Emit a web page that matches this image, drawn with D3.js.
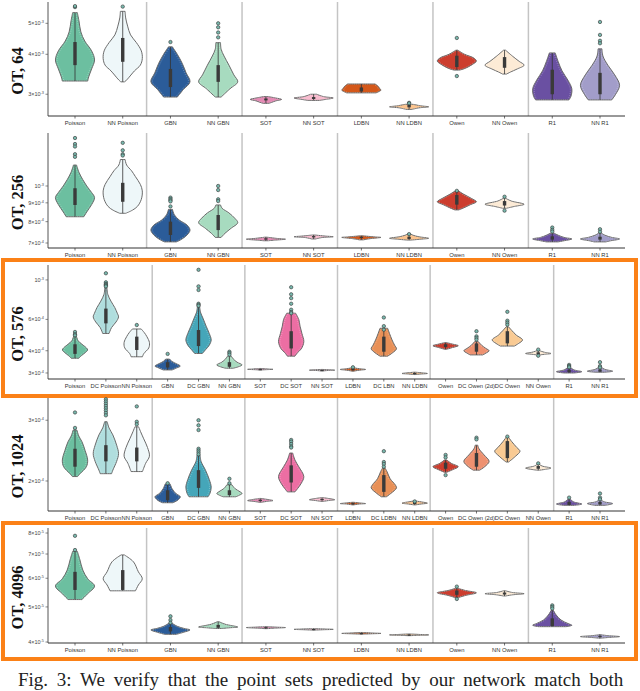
<!DOCTYPE html>
<html>
<head>
<meta charset="utf-8">
<script src="https://cdn.jsdelivr.net/npm/d3@7"></script>
<style>body{margin:0;background:#fff}</style>
</head>
<body>
<svg id="chart" width="640" height="691"></svg>
<script>
// categories (x axis)
const cats12 = ["Poisson","NN Poisson","GBN","NN GBN","SOT","NN SOT","LDBN","NN LDBN","Owen","NN Owen","R1","NN R1"]
const cats576 = ["Poisson","DC Poisson","NN Poisson","GBN","DC GBN","NN GBN","SOT","DC SOT","NN SOT","LDBN","DC LBN","NN LDBN","Owen","DC Owen (2d)","DC Owen","NN Owen","R1","NN R1"]
const cats1024 = ["Poisson","DC Poisson","NN Poisson","GBN","DC GBN","NN GBN","SOT","DC SOT","NN SOT","LDBN","DC LDBN","NN LDBN","Owen","DC Owen (2d)","DC Owen","NN Owen","R1","NN R1"]
const groups12 = [2,2,2,2,2,2]
const groups18 = [3,3,3,3,4,2]

// y ticks
const ticks64 = [3e-3,4e-3,5e-3]
const ticks256 = [7e-4,8e-4,9e-4,1e-3]
const ticks576 = [3e-4,4e-4,6e-4,1e-3]
const ticks1024 = [2e-4,3e-4]
const ticks4096 = [4e-5,5e-5,6e-5,7e-5,8e-5]

const fills = {
  "Poisson":"#6cbfa0","DC Poisson":"#b0dede","NN Poisson":"#eef7f9",
  "GBN":"#2b5c99","DC GBN":"#45a6b9","NN GBN":"#a7dbbf",
  "SOT":"#e58bb5","DC SOT":"#ec6ea3","NN SOT":"#f9bccf",
  "LDBN":"#d4581a","DC LBN":"#e89057","DC LDBN":"#e89057","NN LDBN":"#fcc48e",
  "Owen":"#cc3d2e","DC Owen (2d)":"#ee9170","DC Owen":"#f9ca93","NN Owen":"#fdebd6",
  "R1":"#6a50a2","NN R1":"#a29dc9"
}

// violins: profile [value, relative half width], box [q1, median, q3], outliers
// OT, 64 (x 1e-3)
const ot64 = [
  {cat:"Poisson", prof:[[5.4,0.12],[5.1,0.2],[4.7,0.3],[4.4,0.5],[4.1,0.85],[3.84,1],[3.6,0.85],[3.4,0.7],[3.3,0.65]], box:[3.70,3.97,4.37], out:[5.62,5.66]},
  {cat:"NN Poisson", prof:[[5.45,0.12],[5.2,0.15],[4.9,0.25],[4.6,0.4],[4.35,0.7],[4.1,0.95],[3.88,1],[3.7,0.9],[3.55,0.6],[3.35,0.25],[3.28,0.1]], box:[3.79,4.2,4.5], out:[5.64]},
  {cat:"GBN", prof:[[4.22,0.1],[4.0,0.35],[3.75,0.6],[3.5,0.8],[3.28,1],[3.1,0.65],[2.94,0.35]], box:[3.16,3.38,3.6], out:[4.37]},
  {cat:"NN GBN", prof:[[4.35,0.12],[4.15,0.15],[3.95,0.3],[3.7,0.55],[3.45,0.8],[3.28,1],[3.12,0.6],[2.94,0.15]], box:[3.28,3.5,3.7], out:[5.0,4.86,4.68,4.52]},
  {cat:"SOT", prof:[[2.95,0.1],[2.92,0.5],[2.89,0.8],[2.86,0.5],[2.83,0.3],[2.81,0.15]], box:[2.87,2.89,2.91], out:[]},
  {cat:"NN SOT", prof:[[3.0,0.15],[2.95,0.5],[2.92,1],[2.89,0.6],[2.87,0.3]], box:[2.9,2.92,2.94], out:[]},
  {cat:"LDBN", prof:[[3.23,0.7],[3.18,0.85],[3.12,0.95],[3.09,1],[3.06,0.9],[3.03,0.75]], box:[3.06,3.1,3.15], out:[]},
  {cat:"NN LDBN", prof:[[2.79,0.2],[2.76,0.6],[2.74,1],[2.72,0.5],[2.69,0.15]], box:[2.73,2.75,2.78], out:[2.82,2.81]},
  {cat:"Owen", prof:[[4.12,0.05],[4.0,0.4],[3.9,0.85],[3.81,1],[3.72,0.8],[3.62,0.45],[3.57,0.15]], box:[3.65,3.8,3.96], out:[4.5,3.42]},
  {cat:"NN Owen", prof:[[4.12,0.05],[3.95,0.4],[3.8,0.75],[3.7,1],[3.6,0.65],[3.52,0.3],[3.47,0.1]], box:[3.63,3.76,3.92], out:[]},
  {cat:"R1", prof:[[4.04,0.15],[3.8,0.3],[3.55,0.5],[3.32,0.8],[3.12,1],[2.95,0.95],[2.88,0.85]], box:[3.0,3.32,3.58], out:[]},
  {cat:"NN R1", prof:[[4.16,0.1],[3.95,0.15],[3.7,0.4],[3.45,0.75],[3.2,1],[3.0,0.8],[2.88,0.6]], box:[3.0,3.2,3.5], out:[5.05,4.6,4.41,4.33]}
]

// OT, 256 (x 1e-4)
const ot256 = [
  {cat:"Poisson", prof:[[11.4,0.08],[10.9,0.2],[10.4,0.4],[10.0,0.6],[9.6,0.85],[9.3,1],[8.9,0.85],[8.5,0.6],[8.25,0.45]], box:[8.88,9.45,9.86], out:[13.5,13.0,12.8,12.2,12.0]},
  {cat:"NN Poisson", prof:[[11.8,0.12],[11.4,0.2],[11.0,0.45],[10.6,0.65],[10.1,0.9],[9.7,1],[9.2,0.95],[8.8,0.75],[8.6,0.5],[8.43,0.15]], box:[9.06,9.65,10.2], out:[13.1,12.5,12.2,12.1]},
  {cat:"GBN", prof:[[8.64,0.1],[8.35,0.2],[8.08,0.45],[7.83,0.85],[7.59,1],[7.36,0.85],[7.13,0.5],[7.05,0.3]], box:[7.36,7.65,8.0], out:[9.3,9.22,9.15,9.08,8.8]},
  {cat:"NN GBN", prof:[[8.88,0.12],[8.7,0.2],[8.45,0.55],[8.17,0.85],[7.95,1],[7.67,0.65],[7.44,0.35],[7.25,0.15]], box:[7.59,8.0,8.34], out:[10.0,9.75,9.2,9.1]},
  {cat:"SOT", prof:[[7.26,0.05],[7.2,0.6],[7.17,1],[7.13,0.5],[7.1,0.1]], box:[7.15,7.18,7.21], out:[]},
  {cat:"NN SOT", prof:[[7.36,0.05],[7.31,0.6],[7.28,1],[7.24,0.4],[7.18,0.1]], box:[7.25,7.28,7.31], out:[]},
  {cat:"LDBN", prof:[[7.32,0.1],[7.27,0.7],[7.25,1],[7.2,0.5],[7.14,0.1]], box:[7.22,7.25,7.28], out:[]},
  {cat:"NN LDBN", prof:[[7.42,0.05],[7.35,0.2],[7.28,0.5],[7.21,1],[7.17,0.6],[7.13,0.1]], box:[7.18,7.22,7.28], out:[7.4]},
  {cat:"Owen", prof:[[9.72,0.05],[9.5,0.35],[9.25,0.75],[9.06,1],[8.9,0.7],[8.72,0.35],[8.61,0.1]], box:[8.9,9.15,9.45], out:[9.7]},
  {cat:"NN Owen", prof:[[9.26,0.05],[9.1,0.35],[8.92,1],[8.8,0.5],[8.7,0.1]], box:[8.85,8.95,9.1], out:[9.35,8.57]},
  {cat:"R1", prof:[[7.44,0.1],[7.35,0.3],[7.25,0.6],[7.18,1],[7.1,0.6],[7.05,0.3]], box:[7.15,7.2,7.3], out:[7.71,7.6,7.52]},
  {cat:"NN R1", prof:[[7.44,0.08],[7.35,0.25],[7.25,0.6],[7.18,1],[7.1,0.55],[7.05,0.3]], box:[7.15,7.2,7.28], out:[7.63,7.51]}
]

// OT, 576 (x 1e-4)
const ot576 = [
  {cat:"Poisson", prof:[[4.85,0.1],[4.55,0.25],[4.35,0.55],[4.15,0.9],[4.04,1],[3.9,0.8],[3.75,0.5],[3.63,0.3]], box:[3.84,4.04,4.35], out:[5.1,4.95,4.88]},
  {cat:"DC Poisson", prof:[[9.1,0.08],[8.3,0.15],[7.6,0.4],[7.0,0.7],[6.5,0.9],[6.2,1],[5.8,0.8],[5.4,0.45],[5.0,0.25]], box:[5.7,6.25,6.9], out:[10.9,9.7,9.5,9.4,9.3,9.2]},
  {cat:"NN Poisson", prof:[[5.3,0.35],[5.05,0.6],[4.8,0.8],[4.45,1],[4.15,0.95],[3.85,0.55],[3.7,0.45]], box:[4.04,4.4,4.8], out:[5.58]},
  {cat:"GBN", prof:[[3.59,0.15],[3.48,0.35],[3.38,0.7],[3.28,1],[3.2,0.7],[3.12,0.35]], box:[3.22,3.3,3.45], out:[3.84]},
  {cat:"DC GBN", prof:[[7.23,0.08],[6.6,0.15],[6.1,0.35],[5.5,0.6],[5.0,0.85],[4.6,1],[4.3,0.85],[4.05,0.55],[3.86,0.3]], box:[4.25,4.7,5.23], out:[11.4,9.2,8.78,7.35,7.25,7.15]},
  {cat:"NN GBN", prof:[[3.73,0.15],[3.6,0.3],[3.45,0.6],[3.33,1],[3.25,0.7],[3.19,0.3]], box:[3.25,3.33,3.45], out:[3.95,3.88,3.8]},
  {cat:"SOT", prof:[[3.18,0.05],[3.155,0.7],[3.145,1],[3.13,0.4],[3.12,0.05]], box:[3.14,3.145,3.155], out:[]},
  {cat:"DC SOT", prof:[[6.5,0.35],[6.0,0.6],[5.5,0.7],[5.0,0.85],[4.5,1],[4.1,0.8],[3.9,0.5],[3.73,0.3]], box:[4.12,4.6,5.15], out:[9.1,8.3,7.9,7.35,6.8,6.6,6.5]},
  {cat:"NN SOT", prof:[[3.14,0.05],[3.12,0.8],[3.11,1],[3.1,0.5],[3.08,0.05]], box:[3.1,3.11,3.12], out:[]},
  {cat:"LDBN", prof:[[3.21,0.05],[3.17,0.5],[3.14,1],[3.11,0.5],[3.07,0.05]], box:[3.12,3.14,3.16], out:[3.23]},
  {cat:"DC LBN", prof:[[5.35,0.3],[5.0,0.45],[4.6,0.65],[4.3,0.85],[4.1,1],[3.9,0.7],[3.73,0.3]], box:[3.95,4.4,4.8], out:[6.15,5.5,5.25]},
  {cat:"NN LDBN", prof:[[3.03,0.05],[3.0,0.7],[2.98,1],[2.96,0.5],[2.94,0.05]], box:[2.97,2.98,3.0], out:[]},
  {cat:"Owen", prof:[[4.44,0.1],[4.35,0.6],[4.27,1],[4.17,0.55],[4.08,0.1]], box:[4.2,4.27,4.35], out:[]},
  {cat:"DC Owen (2d)", prof:[[4.5,0.15],[4.3,0.4],[4.12,0.75],[4.0,1],[3.88,0.75],[3.79,0.5]], box:[3.95,4.12,4.4], out:[5.15,4.82,4.72,4.62]},
  {cat:"DC Owen", prof:[[5.45,0.1],[5.2,0.35],[4.9,0.7],[4.6,1.2],[4.4,0.9],[4.25,0.55]], box:[4.4,4.7,5.15], out:[6.62,5.9,5.75,5.6]},
  {cat:"NN Owen", prof:[[4.0,0.1],[3.92,0.5],[3.86,1],[3.82,0.5],[3.79,0.1]], box:[3.83,3.86,3.92], out:[4.06,3.75]},
  {cat:"R1", prof:[[3.2,0.15],[3.12,0.4],[3.05,1],[3.0,0.4]], box:[3.03,3.06,3.12], out:[3.33,3.28,3.23]},
  {cat:"NN R1", prof:[[3.21,0.15],[3.14,0.4],[3.07,1],[3.03,0.4]], box:[3.05,3.08,3.14], out:[3.45,3.28,3.22]}
]

// OT, 1024 (x 1e-4)
const ot1024 = [
  {cat:"Poisson", prof:[[2.81,0.15],[2.7,0.3],[2.6,0.55],[2.45,0.8],[2.3,1],[2.2,0.9],[2.1,0.4],[2.06,0.2]], box:[2.2,2.35,2.48], out:[3.16,2.85]},
  {cat:"DC Poisson", prof:[[2.97,0.1],[2.85,0.25],[2.72,0.55],[2.54,0.85],[2.4,1],[2.28,0.85],[2.15,0.55],[2.1,0.45]], box:[2.28,2.41,2.54], out:[3.45,3.4,3.35,3.3,3.25,3.2,3.15,3.1]},
  {cat:"NN Poisson", prof:[[2.87,0.15],[2.78,0.3],[2.65,0.55],[2.5,0.85],[2.36,1],[2.25,0.7],[2.13,0.45]], box:[2.28,2.38,2.5], out:[3.29,2.97,2.92]},
  {cat:"GBN", prof:[[1.96,0.2],[1.9,0.35],[1.84,0.65],[1.8,1],[1.76,0.8],[1.73,0.4]], box:[1.76,1.8,1.88], out:[1.97]},
  {cat:"DC GBN", prof:[[2.38,0.12],[2.28,0.2],[2.15,0.55],[2.02,0.85],[1.92,1],[1.84,0.9],[1.8,0.75]], box:[1.91,2.03,2.15], out:[3.0,2.9,2.81,2.48,2.45,2.42,2.39]},
  {cat:"NN GBN", prof:[[1.95,0.2],[1.9,0.45],[1.86,0.85],[1.84,1],[1.82,0.8],[1.8,0.5]], box:[1.82,1.84,1.88], out:[2.03,1.97]},
  {cat:"SOT", prof:[[1.78,0.05],[1.765,0.7],[1.755,1],[1.745,0.5],[1.735,0.05]], box:[1.75,1.755,1.765], out:[]},
  {cat:"DC SOT", prof:[[2.41,0.12],[2.3,0.3],[2.2,0.6],[2.06,1],[1.97,0.8],[1.9,0.5],[1.86,0.3]], box:[1.98,2.1,2.22], out:[2.63,2.6,2.56,2.52,2.5]},
  {cat:"NN SOT", prof:[[1.79,0.05],[1.775,0.7],[1.765,1],[1.755,0.5],[1.745,0.05]], box:[1.76,1.765,1.775], out:[]},
  {cat:"LDBN", prof:[[1.735,0.05],[1.725,0.7],[1.72,1],[1.715,0.5],[1.705,0.05]], box:[1.715,1.72,1.725], out:[]},
  {cat:"DC LDBN", prof:[[2.18,0.1],[2.13,0.25],[2.03,0.5],[1.95,0.9],[1.91,1],[1.84,0.55],[1.8,0.2]], box:[1.86,1.95,2.08], out:[2.44,2.27,2.24,2.2]},
  {cat:"NN LDBN", prof:[[1.75,0.05],[1.74,0.5],[1.725,1],[1.715,0.5],[1.705,0.05]], box:[1.715,1.725,1.74], out:[1.745]},
  {cat:"Owen", prof:[[2.3,0.1],[2.25,0.45],[2.2,1],[2.16,0.6],[2.12,0.1]], box:[2.17,2.2,2.26], out:[2.38,2.34,2.08]},
  {cat:"DC Owen (2d)", prof:[[2.54,0.1],[2.48,0.2],[2.38,0.6],[2.28,1],[2.2,0.65],[2.15,0.25]], box:[2.2,2.3,2.41], out:[2.67,2.64]},
  {cat:"DC Owen", prof:[[2.69,0.05],[2.6,0.35],[2.5,0.75],[2.44,1],[2.36,0.65],[2.27,0.1]], box:[2.33,2.45,2.61], out:[2.69]},
  {cat:"NN Owen", prof:[[2.24,0.05],[2.21,0.3],[2.18,1],[2.16,0.5],[2.15,0.1]], box:[2.17,2.18,2.21], out:[2.25]},
  {cat:"R1", prof:[[1.77,0.1],[1.74,0.35],[1.715,1],[1.7,0.4]], box:[1.705,1.715,1.74], out:[1.79]},
  {cat:"NN R1", prof:[[1.76,0.1],[1.74,0.35],[1.72,1],[1.7,0.4]], box:[1.71,1.72,1.74], out:[1.84,1.79,1.77]}
]

// OT, 4096 (x 1e-5)
const ot4096 = [
  {cat:"Poisson", prof:[[7.12,0.12],[6.75,0.25],[6.32,0.4],[5.98,0.65],[5.71,1],[5.44,0.65],[5.24,0.35]], box:[5.57,5.86,6.25], out:[7.86,7.18]},
  {cat:"NN Poisson", prof:[[6.96,0.08],[6.66,0.55],[6.25,0.8],[5.98,1],[5.75,0.8],[5.54,0.65]], box:[5.57,5.98,6.32], out:[]},
  {cat:"GBN", prof:[[4.5,0.1],[4.42,0.35],[4.36,0.7],[4.32,1],[4.26,0.7],[4.2,0.3]], box:[4.28,4.32,4.4], out:[4.71,4.6,4.52]},
  {cat:"NN GBN", prof:[[4.55,0.05],[4.48,0.35],[4.4,1],[4.38,0.6],[4.36,0.2]], box:[4.38,4.4,4.46], out:[]},
  {cat:"SOT", prof:[[4.41,0.05],[4.395,0.6],[4.385,1],[4.37,0.5],[4.355,0.05]], box:[4.375,4.385,4.395], out:[]},
  {cat:"NN SOT", prof:[[4.355,0.05],[4.345,0.6],[4.335,1],[4.325,0.5],[4.315,0.05]], box:[4.325,4.335,4.345], out:[]},
  {cat:"LDBN", prof:[[4.25,0.05],[4.235,0.6],[4.225,1],[4.215,0.5],[4.205,0.05]], box:[4.215,4.225,4.235], out:[]},
  {cat:"NN LDBN", prof:[[4.21,0.05],[4.195,0.6],[4.185,1],[4.175,0.5],[4.165,0.05]], box:[4.175,4.185,4.195], out:[]},
  {cat:"Owen", prof:[[5.63,0.05],[5.55,0.45],[5.47,1],[5.38,0.45],[5.3,0.05]], box:[5.4,5.47,5.55], out:[5.69,5.26]},
  {cat:"NN Owen", prof:[[5.54,0.05],[5.48,0.4],[5.44,1],[5.4,0.4],[5.36,0.05]], box:[5.41,5.44,5.48], out:[]},
  {cat:"R1", prof:[[4.9,0.05],[4.75,0.2],[4.6,0.45],[4.5,0.8],[4.45,1],[4.41,0.7]], box:[4.43,4.5,4.65], out:[5.05,5.0,4.95]},
  {cat:"NN R1", prof:[[4.19,0.05],[4.165,0.4],[4.14,1],[4.12,0.5],[4.1,0.05]], box:[4.13,4.14,4.16], out:[]}
]

const panels = [
  {title:"OT, 64", cats:cats12, groups:groups12, unit:1e-3, domain:[2.565e-3,5.83e-3], ticks:ticks64, data:ot64, top:2, bottom:116},
  {title:"OT, 256", cats:cats12, groups:groups12, unit:1e-4, domain:[6.785e-4,1.393e-3], ticks:ticks256, data:ot256, top:133, bottom:248},
  {title:"OT, 576", cats:cats576, groups:groups18, unit:1e-4, domain:[2.775e-4,1.213e-3], ticks:ticks576, data:ot576, top:265, bottom:379},
  {title:"OT, 1024", cats:cats1024, groups:groups18, unit:1e-4, domain:[1.637e-4,3.48e-4], ticks:ticks1024, data:ot1024, top:398, bottom:511},
  {title:"OT, 4096", cats:cats12, groups:groups12, unit:1e-5, domain:[3.975e-5,8.26e-5], ticks:ticks4096, data:ot4096, top:528, bottom:643}
]

const svg = d3.select('#chart')
const axisLeft = 48, axisRight = 625

// orange highlight boxes round the 576 and 4096 panels
svg.selectAll('rect.hl')
  .data([[260,396],[523,659]])
  .join('rect')
  .attr('x', 3).attr('y', d => d[0])
  .attr('width', 633).attr('height', d => d[1] - d[0])
  .attr('fill', 'none').attr('stroke', '#fb8117').attr('stroke-width', 4)

panels.forEach(p => {
  const g = svg.append('g')
  const x = d3.scalePoint().domain(p.cats).range([75, 600])
  const y = d3.scaleLog().domain(p.domain).range([p.bottom, p.top])
  const hw = x.step() * 0.41

  // group separators
  let idx = 0
  p.groups.slice(0, -1).forEach(n => {
    idx += n
    const sx = (x(p.cats[idx - 1]) + x(p.cats[idx])) / 2
    g.append('line').attr('x1', sx).attr('x2', sx).attr('y1', p.top).attr('y2', p.bottom)
      .attr('stroke', '#c4c4c4').attr('stroke-width', 1.5)
  })

  // axes
  g.append('line').attr('x1', axisLeft).attr('x2', axisLeft).attr('y1', p.top).attr('y2', p.bottom)
    .attr('stroke', '#555').attr('stroke-width', 1)
  g.append('line').attr('x1', axisLeft).attr('x2', axisRight).attr('y1', p.bottom).attr('y2', p.bottom)
    .attr('stroke', '#333').attr('stroke-width', 1)

  const yt = g.selectAll('g.yt').data(p.ticks).join('g').attr('transform', d => `translate(0,${y(d)})`)
  yt.append('line').attr('x1', axisLeft - 2.5).attr('x2', axisLeft).attr('stroke', '#555').attr('stroke-width', 0.7)
  const lab = yt.append('text').attr('x', axisLeft - 4).attr('dy', '0.35em')
    .attr('text-anchor', 'end').attr('font-family', 'Liberation Sans, Arial, sans-serif')
    .attr('font-size', 5.5).attr('fill', '#444')
  lab.append('tspan').text(d => {
    const e = Math.floor(Math.log10(d) + 1e-9)
    const m = Math.round(d / Math.pow(10, e))
    return m === 1 ? '10' : m + '×10'
  })
  lab.append('tspan').attr('dy', -2.2).attr('font-size', 3.8)
    .text(d => '-' + (-Math.floor(Math.log10(d) + 1e-9)))

  const xt = g.selectAll('g.xt').data(p.cats).join('g').attr('transform', d => `translate(${x(d)},${p.bottom})`)
  xt.append('line').attr('y1', 0).attr('y2', 2.5).attr('stroke', '#333').attr('stroke-width', 0.7)
  xt.append('text').attr('y', 8.5).attr('text-anchor', 'middle')
    .attr('font-family', 'Liberation Sans, Arial, sans-serif').attr('font-size', 5.8).attr('fill', '#333')
    .text(d => d)

  // panel title
  const ty = (p.top + p.bottom) / 2 + 12
  g.append('text').attr('transform', `translate(17,${ty}) rotate(-90)`)
    .attr('text-anchor', 'middle').attr('dy', '0.35em')
    .attr('font-family', 'Liberation Serif, Times New Roman, serif').attr('font-weight', 'bold')
    .attr('font-size', 16.5).attr('fill', '#111').text(p.title)

  // violins
  p.data.forEach(v => {
    const cx = x(v.cat)
    const area = d3.area().curve(d3.curveCatmullRom)
      .y(d => y(d[0] * p.unit)).x0(d => cx - d[1] * hw).x1(d => cx + d[1] * hw)
    g.append('path').attr('d', area(v.prof))
      .attr('fill', fills[v.cat]).attr('stroke', '#6b6b6b').attr('stroke-width', 1)
    // jittered points show as a faint dotted rim inside the outline
    const inner = d3.area().curve(d3.curveCatmullRom)
      .y(d => y(d[0] * p.unit))
      .x0(d => cx - Math.max(0, d[1] * hw - 1.6)).x1(d => cx + Math.max(0, d[1] * hw - 1.6))
    g.append('path').attr('d', inner(v.prof))
      .attr('fill', 'none').attr('stroke', '#fff').attr('stroke-opacity', 0.55)
      .attr('stroke-width', 0.6).attr('stroke-dasharray', '0.8,1.4')
    const ext = d3.extent(v.prof, d => d[0])
    g.append('line').attr('x1', cx).attr('x2', cx)
      .attr('y1', y(ext[1] * p.unit)).attr('y2', y(ext[0] * p.unit))
      .attr('stroke', '#333').attr('stroke-width', 0.8)
    g.append('rect').attr('x', cx - 1.7).attr('width', 3.4)
      .attr('y', y(v.box[2] * p.unit))
      .attr('height', Math.max(1.2, y(v.box[0] * p.unit) - y(v.box[2] * p.unit)))
      .attr('fill', '#3a3a3a')
    g.selectAll(null).data(v.out).join('circle')
      .attr('cx', cx).attr('cy', d => y(d * p.unit)).attr('r', 1.7)
      .attr('fill', '#78b8ad').attr('stroke', '#333').attr('stroke-width', 0.6)
  })
})

// caption (sits at the bottom edge)
svg.append('text').attr('x', 18).attr('y', 686)
  .attr('font-family', 'Liberation Serif, Times New Roman, serif').attr('font-size', 19)
  .attr('fill', '#222').attr('word-spacing', 4)
  .text('Fig. 3:  We verify that the point sets predicted by our network match both')
</script>
</body>
</html>
